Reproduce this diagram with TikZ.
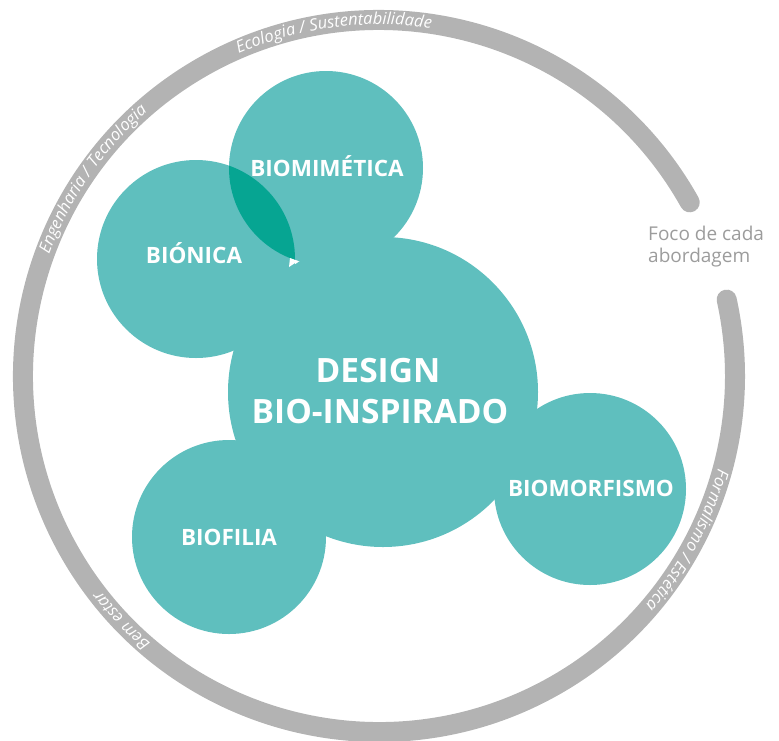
\documentclass[tikz,border=0pt]{standalone}
\usepackage{fontspec}
\setmainfont{Open Sans}
\usetikzlibrary{decorations.text}
\definecolor{tealc}{HTML}{5FBFBE}
\definecolor{lensc}{HTML}{06A592}
\definecolor{ringc}{HTML}{B3B3B3}
\definecolor{fococ}{HTML}{9C9C9C}
\newcommand\ringtxtfont{\itshape\fontsize{16.5}{19}\selectfont}
\begin{document}
\begin{tikzpicture}[x=1pt,y=1pt,
  bubble/.style={circle, fill=tealc, draw=none, inner sep=0pt},
  lbl/.style={text=white, font=\bfseries\fontsize{22.5}{27}\selectfont, inner sep=0pt, anchor=base},
  biglbl/.style={text=white, font=\bfseries\fontsize{33.5}{40}\selectfont, inner sep=0pt, anchor=base},
  focotxt/.style={text=fococ, font=\fontsize{19}{22}\selectfont, inner sep=0pt, anchor=base west},
  ringline/.style={draw=ringc, line width=20pt, line cap=round},
  ringtext/.style={decorate, decoration={text along path, text align=center, text color=white,
     text={|\ringtxtfont|#1}}}
]
\useasboundingbox (0,0) rectangle (779,-740);
\coordinate (c) at (379,-376);
% outer ring
\draw[ringline] (c) ++(29.2:356) arc[start angle=29.2, end angle=372.4, radius=356];
% ring texts
\path[ringtext={Ecologia / Sustentabilidade}] (c) ++(132:351.5) arc[start angle=132, end angle=63, radius=351.5];
\path[ringtext={Engenharia / Tecnologia}] (c) ++(180:351.5) arc[start angle=180, end angle=111, radius=351.5];
\path[ringtext={Bem estar}] (c) ++(250:351.5) arc[start angle=250, end angle=197, radius=351.5];
\path[ringtext={Formalismo / Estética}] (c) ++(366:351.5) arc[start angle=366, end angle=298, radius=351.5];
% bubbles
\node[bubble, minimum size=194pt] (mim) at (326,-168) {};
\node[bubble, minimum size=198pt] (bio) at (196,-259) {};
\node[bubble, minimum size=310pt] (des) at (383,-392) {};
\node[bubble, minimum size=194pt] (fil) at (229,-537) {};
\node[bubble, minimum size=192pt] (mor) at (590,-489) {};
% overlap lens
\begin{scope}
  \clip (bio.center) circle (99);
  \fill[lensc] (mim.center) circle (97);
\end{scope}
\fill[white] (290,-258) -- (298,-261) -- (289,-267) -- cycle;
% labels
\node[lbl] (tmim) at (327,-176) {BIOMIMÉTICA};
\node[lbl] (tbio) at (194,-263) {BIÓNICA};
\node[lbl] (tfil) at (229,-545) {BIOFILIA};
\node[lbl] (tmor) at (591,-496) {BIOMORFISMO};
\node[biglbl] (tdes) at (378,-382) {DESIGN};
\node[biglbl] (tbin) at (380,-423) {BIO-INSPIRADO};
% focus note
\node[focotxt] (foco1) at (648,-240) {Foco de cada};
\node[focotxt] (foco2) at (648,-262) {abordagem};
\end{tikzpicture}
\end{document}
